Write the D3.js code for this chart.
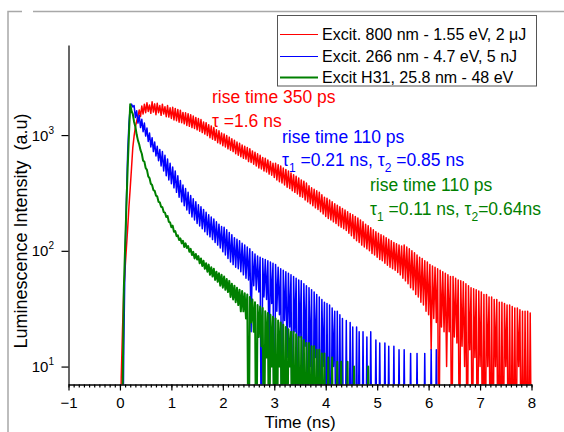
<!DOCTYPE html>
<html><head><meta charset="utf-8">
<script src="https://cdn.jsdelivr.net/npm/d3@7/dist/d3.min.js"></script>
<style>
body{margin:0;background:#fff}
svg{display:block}
text{font-family:"Liberation Sans",Arial,sans-serif;white-space:pre}
</style>
</head><body>
<svg id="c" width="564" height="432"></svg>
<script>
// time grid of the recorded traces (ns)
const timeStart = 0, timeStep = 0.025;

// Excit. 800 nm (red), t = 0 .. 8 ns
const redValues = [
  1, 8, 21, 46, 70, 105, 155, 240, 350, 520,
  780, 980, 1170, 1320, 1450, 1650, 1450, 1780, 1520, 1850,
  1560, 1900, 1600, 1820, 1540, 1940, 1580, 1860, 1500, 1880,
  1560, 1800, 1480, 1850, 1520, 1760, 1440, 1800, 1430, 1720,
  1390, 1740, 1350, 1700, 1330, 1660, 1290, 1640, 1280, 1570,
  1250, 1560, 1210, 1530, 1190, 1500, 1160, 1460, 1140, 1420,
  1110, 1390, 1080, 1360, 1050, 1300, 1020, 1280, 990, 1230,
  950, 1200, 920, 1160, 900, 1110, 860, 1090, 840, 1040,
  810, 1020, 790, 990, 760, 960, 740, 930, 720, 900,
  690, 870, 670, 850, 650, 820, 630, 800, 620, 780,
  590, 760, 580, 730, 560, 710, 540, 690, 520, 670,
  510, 640, 490, 630, 480, 610, 460, 590, 450, 570,
  430, 570, 410, 555, 395, 540, 385, 520, 370, 505,
  355, 490, 345, 470, 330, 455, 320, 440, 310, 425,
  295, 410, 290, 400, 275, 385, 265, 365, 255, 350,
  245, 340, 235, 330, 228, 320, 218, 305, 208, 290,
  198, 285, 190, 275, 185, 265, 178, 255, 172, 248,
  165, 240, 160, 232, 155, 225, 150, 218, 142, 210,
  135, 205, 128, 198, 122, 192, 118, 185, 112, 178,
  108, 170, 104, 165, 100, 158, 95, 152, 92, 146,
  88, 142, 84, 138, 82, 134, 78, 130, 75, 126,
  72, 122, 70, 118, 68, 115, 65, 112, 62, 110,
  58, 112, 55, 108, 52, 104, 48, 100, 46, 96,
  42, 92, 40, 88, 36, 86, 34, 82, 30, 80,
  28, 76, 14, 74, 26, 72, 24, 70, 1, 68,
  22, 66, 20, 64, 10, 62, 20, 60, 1, 60,
  18, 58, 16, 56, 1, 55, 15, 54, 10, 52,
  1, 50, 14, 48, 1, 47, 12, 46, 1, 45,
  10, 44, 1, 42, 1, 42, 10, 40, 1, 40,
  1, 38, 10, 38, 1, 36, 1, 36, 1, 35,
  10, 34, 1, 34, 1, 33, 1, 32, 1, 32,
  10, 31, 1, 30, 1, 30, 1, 30, 1, 29,
  1
];

// Excit. 266 nm (blue), t = 0 .. 6.2 ns
const blueValues = [
  1, 1, 1, 15, 90, 260, 700, 1250, 1750, 1850,
  1750, 1800, 1420, 1620, 1270, 1480, 1160, 1370, 1070, 1270,
  980, 1150, 880, 1040, 790, 950, 720, 870, 660, 800,
  600, 750, 540, 720, 490, 670, 445, 620, 410, 570,
  380, 530, 350, 490, 320, 445, 290, 405, 265, 370,
  245, 345, 225, 320, 210, 300, 196, 282, 185, 265,
  172, 250, 164, 240, 155, 228, 146, 215, 138, 205,
  132, 196, 125, 188, 118, 178, 112, 170, 106, 162,
  98, 160, 92, 152, 86, 144, 80, 138, 76, 130,
  72, 126, 70, 122, 66, 116, 62, 112, 58, 108,
  56, 104, 20, 98, 50, 94, 46, 90, 44, 88,
  1, 86, 40, 84, 38, 82, 12, 80, 35, 78,
  1, 76, 30, 72, 28, 70, 1, 68, 25, 66,
  12, 64, 22, 62, 1, 60, 20, 58, 1, 56,
  18, 55, 1, 52, 15, 50, 1, 48, 10, 46,
  1, 44, 12, 42, 1, 40, 1, 38, 10, 36,
  1, 35, 1, 34, 1, 32, 10, 30, 1, 30,
  1, 28, 1, 26, 1, 1, 25, 1, 1, 24,
  1, 22, 1, 1, 22, 1, 20, 1, 1, 20,
  1, 1, 18, 1, 1, 20, 1, 1, 1, 17,
  1, 1, 16, 1, 1, 1, 16, 1, 1, 15,
  1, 1, 1, 15, 1, 1, 1, 14, 1, 1,
  1, 14, 1, 1, 1, 1, 13, 1, 1, 1,
  1, 13, 1, 1, 1, 1, 1, 13, 1, 1,
  1, 1, 14, 1, 1, 1, 14, 1, 1
];

// Excit H31 (green), t = 0 .. 4.85 ns
const greenValues = [
  1, 1, 5, 46, 106, 240, 514, 1000, 1850, 1620,
  1520, 1300, 1180, 1010, 900, 830, 740, 690, 600, 590,
  520, 500, 440, 425, 380, 370, 335, 330, 300, 295,
  265, 262, 240, 238, 216, 214, 196, 200, 178, 176,
  160, 165, 146, 148, 134, 136, 124, 128, 116, 122,
  108, 116, 106, 110, 98, 104, 92, 98, 86, 94,
  84, 90, 78, 86, 74, 82, 70, 78, 66, 76,
  62, 72, 60, 70, 56, 66, 54, 64, 50, 62,
  48, 60, 46, 57, 44, 55, 40, 52, 38, 50,
  36, 48, 34, 46, 30, 45, 30, 43, 26, 42,
  1, 40, 24, 38, 20, 36, 1, 34, 18, 33,
  15, 32, 1, 30, 12, 29, 1, 28, 10, 27,
  1, 26, 1, 25, 10, 24, 1, 23, 1, 22,
  1, 21, 10, 20, 1, 20, 1, 19, 1, 18,
  1, 18, 1, 17, 1, 16, 1, 16, 1, 15,
  1, 15, 1, 14, 1, 14, 1, 13, 1, 13,
  1, 1, 12, 1, 1, 12, 1, 1, 1, 11,
  1, 1, 11, 1, 1, 1, 1, 11, 1, 1,
  1, 1, 10, 1, 1, 1, 1, 1, 1, 1,
  1, 1, 1, 10, 1
];

const seriesNames = ["Excit. 800 nm - 1.55 eV, 2 \u03bcJ", "Excit. 266 nm - 4.7 eV, 5 nJ", "Excit H31, 25.8 nm - 48 eV"];
const seriesColors = ["#ff0000", "#0000ff", "#008000"];
const seriesWidths = [1, 1, 2];
const traceWidths = [1.5, 1.5, 2];

const xTickValues = [-1, 0, 1, 2, 3, 4, 5, 6, 7, 8];
const yTickValues = [10, 100, 1000];
const yTickExponents = ["1", "2", "3"];
const yMinorValues = [8, 9, 20, 30, 40, 50, 60, 70, 80, 90, 200, 300, 400, 500, 600, 700, 800, 900, 2000, 3000, 4000, 5000];

const xTitle = "Time (ns)";
const yTitle = "Luminescence Intensity  (a.u)";

const svg = d3.select("#c");
const L = 68.5, R = 531.5, T = 45, B = 384.5;
const x = d3.scaleLinear().domain([-1, 8]).range([L, R]);
const y = d3.scaleLog().domain([7, 6000]).range([B, T]);

// outer frame
const frame = svg.append("g").attr("stroke", "#a8a8a8").attr("stroke-width", 1.5).attr("fill", "none");
frame.append("path").attr("d", "M8,432V11.5H22");
frame.append("path").attr("d", "M33,11.5H564");

// clip
svg.append("clipPath").attr("id", "clip").append("rect")
  .attr("x", L).attr("y", T).attr("width", R - L + 1).attr("height", B - T);

const line = d3.line()
  .x((d, i) => x(timeStart + i * timeStep))
  .y(d => y(d));

const plot = svg.append("g").attr("clip-path", "url(#clip)");
[redValues, blueValues, greenValues].forEach((vals, k) => {
  plot.append("path").datum(vals)
    .attr("d", line)
    .attr("fill", "none")
    .attr("stroke", seriesColors[k])
    .attr("stroke-width", traceWidths[k])
    .attr("stroke-linejoin", "round");
});

// x axis
const xAxisG = svg.append("g").attr("transform", `translate(0,${B})`);
xAxisG.call(d3.axisBottom(x).tickValues(d3.range(-1, 8.001, 0.1)).tickSize(3).tickSizeOuter(0).tickFormat(""));
xAxisG.call(g => g.append("g").call(d3.axisBottom(x).tickValues(xTickValues).tickSize(6).tickSizeOuter(0).tickFormat(d3.format("d"))));
xAxisG.selectAll("text").attr("font-size", 15).attr("fill", "#000")
  .attr("font-family", "Liberation Sans, Arial, sans-serif").attr("y", 8).attr("dy", "1em");
xAxisG.selectAll("path,line").attr("stroke", "#000").attr("stroke-width", 1.2);

// y axis
const yAxisG = svg.append("g").attr("transform", `translate(${L},0)`);
yAxisG.call(d3.axisLeft(y).tickValues(yMinorValues).tickSize(4).tickSizeOuter(0).tickFormat(""));
yAxisG.call(d3.axisLeft(y).tickValues(yTickValues).tickSize(7).tickSizeOuter(0).tickFormat(""));
yAxisG.selectAll("path,line").attr("stroke", "#000").attr("stroke-width", 1.2);

const yl = svg.append("g");
yTickValues.forEach((v, i) => {
  const t = yl.append("text").attr("x", 54).attr("y", y(v) + 5.5)
    .attr("text-anchor", "end").attr("font-size", 15).attr("fill", "#000");
  t.append("tspan").text("10");
  t.append("tspan").attr("dy", -7).attr("font-size", 10).text(yTickExponents[i]);
});

// titles
svg.append("text").attr("x", 300).attr("y", 428).attr("text-anchor", "middle")
  .attr("font-size", 17).text(xTitle);
svg.append("text").attr("transform", "translate(27,231) rotate(-90)").attr("text-anchor", "middle")
  .attr("font-size", 18).text(yTitle);

// legend
const leg = svg.append("g");
leg.append("rect").attr("x", 277.5).attr("y", 15.5).attr("width", 259).attr("height", 70.5)
  .attr("fill", "#fff").attr("stroke", "#555").attr("stroke-width", 1);
const legLineY = [34.5, 56.5, 77.5];
const legTextY = [40, 62.3, 83.3];
seriesNames.forEach((n, k) => {
  leg.append("line").attr("x1", 280).attr("x2", 318).attr("y1", legLineY[k]).attr("y2", legLineY[k])
    .attr("stroke", seriesColors[k]).attr("stroke-width", seriesWidths[k]);
  leg.append("text").attr("x", 322).attr("y", legTextY[k]).attr("font-size", 16).attr("fill", "#000").text(n);
});

// annotations
function ann(xp, yp, color, parts) {
  const t = svg.append("text").attr("x", xp).attr("y", yp).attr("font-size", 17.5).attr("fill", color);
  parts.forEach(p => {
    const s = t.append("tspan").text(p.s);
    if (p.sub) s.attr("font-size", 12).attr("dy", 6);
    if (p.up) s.attr("dy", -6);
  });
}
ann(212, 103.3, "#ff0000", [{s: "rise time 350 ps"}]);
ann(212, 126.7, "#ff0000", [{s: "\u03c4 =1.6 ns"}]);
ann(282, 142.7, "#0000ff", [{s: "rise time 110 ps"}]);
ann(282, 166, "#0000ff", [{s: "\u03c4"}, {s: "1", sub: true}, {s: " =0.21 ns, \u03c4", up: true}, {s: "2", sub: true}, {s: " =0.85 ns", up: true}]);
ann(370, 191, "#008000", [{s: "rise time 110 ps"}]);
ann(370, 215, "#008000", [{s: "\u03c4"}, {s: "1", sub: true}, {s: " =0.11 ns, \u03c4", up: true}, {s: "2", sub: true}, {s: "=0.64ns", up: true}]);
</script>
</body></html>
